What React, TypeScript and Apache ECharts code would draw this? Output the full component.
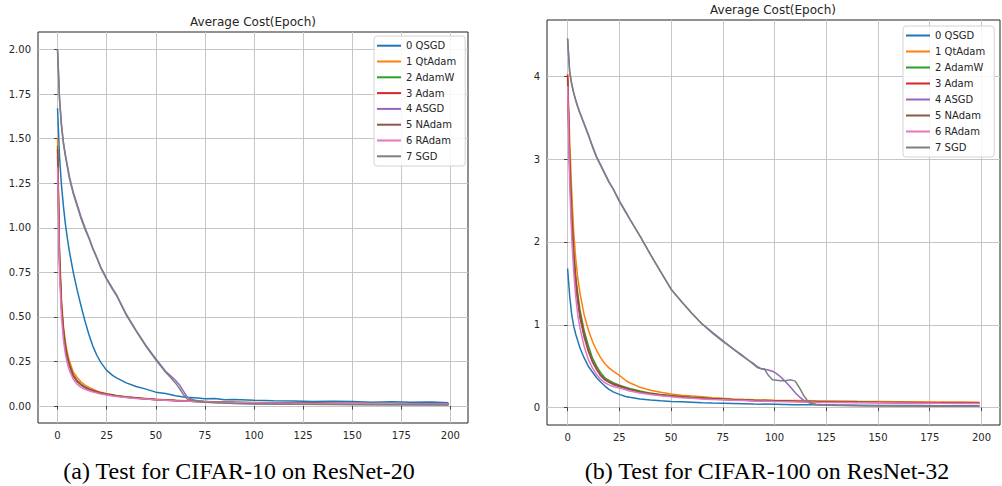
import React, { useEffect, useRef } from "react";
import * as echarts from "echarts";

// ---------- data ----------
const NAMES = ["0 QSGD", "1 QtAdam", "2 AdamW", "3 Adam", "4 ASGD", "5 NAdam", "6 RAdam", "7 SGD"];
const COLORS = ["#1f77b4", "#ff7f0e", "#2ca02c", "#d62728", "#9467bd", "#8c564b", "#e377c2", "#7f7f7f"];

const X_TICKS = [0, 25, 50, 75, 100, 125, 150, 175, 200];
const Y_TICKS_A = [0, 0.25, 0.5, 0.75, 1.0, 1.25, 1.5, 1.75, 2.0];
const Y_TICKS_B = [0, 1, 2, 3, 4];

// epochs sampled for fast-converging optimizers (both charts)
const EP_FAST = [0, 1, 2, 3, 4, 5, 6, 8, 10, 12, 14, 16, 18, 20, 22, 25, 28, 30, 35, 40, 45, 50, 55, 60, 65, 70, 75, 80, 85, 90, 100, 110, 120, 130, 140, 150, 160, 170, 180, 190, 199];
// epochs sampled for SGD / ASGD
const EP_SLOW_A = [0, 1, 2, 3, 4, 5, 6, 8, 10, 12, 14, 16, 18, 20, 22, 25, 28, 30, 35, 40, 45, 50, 55, 58, 60, 62, 64, 66, 70, 75, 80, 90, 100, 120, 140, 160, 180, 199];
const EP_SLOW_B = [0, 1, 2, 3, 4, 5, 6, 8, 10, 12, 14, 16, 18, 20, 22, 25, 28, 30, 35, 40, 45, 50, 55, 60, 65, 70, 75, 80, 84, 88, 90, 92, 94, 95, 97, 99, 101, 103, 105, 108, 110, 112, 114, 116, 118, 120, 125, 140, 160, 180, 199];

// (a) CIFAR-10 / ResNet-20
const A_QSGD = [1.67, 1.40, 1.24, 1.12, 1.02, 0.94, 0.87, 0.75, 0.65, 0.56, 0.475, 0.40, 0.335, 0.285, 0.245, 0.2, 0.172, 0.158, 0.13, 0.11, 0.095, 0.078, 0.07, 0.058, 0.05, 0.046, 0.041, 0.043, 0.036, 0.037, 0.032, 0.03, 0.029, 0.026, 0.027, 0.025, 0.022, 0.024, 0.021, 0.023, 0.018];
const A_QTADAM = [1.50, 0.88, 0.60, 0.45, 0.36, 0.30, 0.255, 0.19, 0.16, 0.135, 0.118, 0.105, 0.095, 0.085, 0.077, 0.069, 0.063, 0.059, 0.052, 0.046, 0.042, 0.038, 0.035, 0.032, 0.03, 0.027, 0.026, 0.024, 0.023, 0.021, 0.02, 0.019, 0.017, 0.017, 0.015, 0.015, 0.014, 0.013, 0.013, 0.012, 0.011];
const A_ADAMW = [1.46, 0.84, 0.57, 0.43, 0.34, 0.28, 0.235, 0.175, 0.143, 0.122, 0.107, 0.096, 0.088, 0.081, 0.075, 0.068, 0.062, 0.058, 0.051, 0.046, 0.041, 0.037, 0.034, 0.031, 0.029, 0.027, 0.025, 0.023, 0.022, 0.021, 0.019, 0.018, 0.017, 0.019, 0.015, 0.015, 0.014, 0.014, 0.013, 0.012, 0.012];
const A_ADAM = [1.44, 0.82, 0.56, 0.42, 0.33, 0.27, 0.23, 0.17, 0.14, 0.12, 0.105, 0.095, 0.087, 0.08, 0.074, 0.067, 0.061, 0.057, 0.05, 0.045, 0.04, 0.037, 0.034, 0.031, 0.028, 0.026, 0.024, 0.023, 0.021, 0.02, 0.019, 0.017, 0.016, 0.016, 0.015, 0.014, 0.013, 0.013, 0.012, 0.012, 0.011];
const A_NADAM = [1.40, 0.80, 0.55, 0.41, 0.32, 0.265, 0.225, 0.167, 0.137, 0.118, 0.103, 0.093, 0.085, 0.078, 0.072, 0.065, 0.06, 0.056, 0.049, 0.044, 0.04, 0.036, 0.033, 0.03, 0.028, 0.026, 0.024, 0.022, 0.021, 0.02, 0.018, 0.017, 0.016, 0.015, 0.014, 0.014, 0.013, 0.012, 0.012, 0.011, 0.011];
const A_RADAM = [1.34, 0.74, 0.50, 0.37, 0.29, 0.24, 0.20, 0.15, 0.122, 0.105, 0.094, 0.086, 0.079, 0.073, 0.068, 0.062, 0.057, 0.054, 0.048, 0.043, 0.039, 0.036, 0.033, 0.03, 0.028, 0.026, 0.024, 0.022, 0.021, 0.02, 0.018, 0.017, 0.016, 0.015, 0.015, 0.014, 0.013, 0.013, 0.012, 0.012, 0.011];
const A_ASGD = [2.00, 1.73, 1.58, 1.48, 1.41, 1.35, 1.29, 1.20, 1.13, 1.06, 1.00, 0.945, 0.885, 0.835, 0.78, 0.715, 0.66, 0.625, 0.515, 0.425, 0.34, 0.265, 0.195, 0.165, 0.145, 0.12, 0.085, 0.05, 0.032, 0.024, 0.02, 0.016, 0.013, 0.011, 0.01, 0.009, 0.008, 0.008];
const A_SGD = [2.00, 1.72, 1.57, 1.47, 1.40, 1.34, 1.28, 1.19, 1.12, 1.05, 0.99, 0.94, 0.88, 0.83, 0.775, 0.71, 0.655, 0.62, 0.51, 0.42, 0.335, 0.26, 0.19, 0.155, 0.13, 0.10, 0.065, 0.04, 0.03, 0.022, 0.018, 0.014, 0.012, 0.01, 0.009, 0.008, 0.007, 0.006];

// (b) CIFAR-100 / ResNet-32
const B_QSGD = [1.68, 1.35, 1.12, 0.98, 0.88, 0.80, 0.72, 0.60, 0.50, 0.43, 0.36, 0.31, 0.26, 0.22, 0.19, 0.16, 0.135, 0.125, 0.105, 0.092, 0.082, 0.075, 0.07, 0.065, 0.06, 0.056, 0.053, 0.05, 0.047, 0.044, 0.04, 0.036, 0.033, 0.03, 0.028, 0.026, 0.025, 0.024, 0.023, 0.022, 0.021];
const B_QTADAM = [4.03, 3.25, 2.60, 2.10, 1.78, 1.55, 1.38, 1.12, 0.94, 0.80, 0.69, 0.60, 0.53, 0.48, 0.44, 0.39, 0.33, 0.30, 0.245, 0.21, 0.185, 0.165, 0.15, 0.14, 0.13, 0.12, 0.112, 0.105, 0.10, 0.096, 0.09, 0.086, 0.082, 0.079, 0.076, 0.074, 0.072, 0.07, 0.068, 0.067, 0.066];
const B_ADAMW = [3.98, 3.00, 2.35, 1.88, 1.58, 1.36, 1.18, 0.93, 0.75, 0.60, 0.50, 0.42, 0.36, 0.33, 0.30, 0.27, 0.245, 0.23, 0.20, 0.175, 0.158, 0.145, 0.135, 0.125, 0.118, 0.11, 0.104, 0.098, 0.094, 0.09, 0.083, 0.078, 0.074, 0.07, 0.067, 0.064, 0.062, 0.06, 0.058, 0.057, 0.056];
const B_ADAM = [4.02, 2.95, 2.28, 1.82, 1.52, 1.30, 1.12, 0.88, 0.70, 0.56, 0.47, 0.39, 0.34, 0.31, 0.285, 0.26, 0.235, 0.22, 0.19, 0.168, 0.152, 0.14, 0.13, 0.12, 0.113, 0.106, 0.10, 0.095, 0.09, 0.087, 0.081, 0.076, 0.072, 0.068, 0.065, 0.063, 0.061, 0.059, 0.058, 0.057, 0.056];
const B_NADAM = [3.95, 2.85, 2.20, 1.75, 1.46, 1.25, 1.08, 0.85, 0.68, 0.55, 0.46, 0.385, 0.335, 0.305, 0.28, 0.255, 0.232, 0.218, 0.188, 0.166, 0.15, 0.138, 0.128, 0.118, 0.11, 0.104, 0.098, 0.093, 0.089, 0.085, 0.079, 0.074, 0.07, 0.067, 0.064, 0.061, 0.059, 0.057, 0.056, 0.055, 0.054];
const B_RADAM = [3.88, 2.70, 2.05, 1.62, 1.32, 1.10, 0.96, 0.74, 0.58, 0.48, 0.40, 0.34, 0.30, 0.275, 0.255, 0.235, 0.215, 0.20, 0.175, 0.157, 0.142, 0.13, 0.12, 0.112, 0.105, 0.099, 0.094, 0.089, 0.085, 0.081, 0.075, 0.07, 0.066, 0.063, 0.06, 0.058, 0.056, 0.054, 0.052, 0.051, 0.05];
const B_ASGD = [4.46, 4.06, 3.91, 3.80, 3.71, 3.63, 3.56, 3.43, 3.30, 3.16, 3.03, 2.93, 2.83, 2.73, 2.64, 2.50, 2.37, 2.28, 2.07, 1.85, 1.64, 1.43, 1.28, 1.14, 1.01, 0.91, 0.81, 0.71, 0.64, 0.56, 0.53, 0.49, 0.465, 0.462, 0.455, 0.44, 0.41, 0.37, 0.32, 0.24, 0.18, 0.13, 0.09, 0.065, 0.05, 0.04, 0.032, 0.026, 0.022, 0.02, 0.019];
const B_SGD = [4.45, 4.05, 3.90, 3.79, 3.70, 3.62, 3.55, 3.42, 3.29, 3.15, 3.02, 2.92, 2.82, 2.72, 2.64, 2.49, 2.36, 2.28, 2.07, 1.85, 1.64, 1.43, 1.28, 1.14, 1.01, 0.90, 0.80, 0.71, 0.63, 0.56, 0.52, 0.48, 0.465, 0.47, 0.39, 0.335, 0.33, 0.325, 0.325, 0.335, 0.32, 0.24, 0.15, 0.08, 0.05, 0.035, 0.028, 0.022, 0.018, 0.016, 0.015];

const TITLE = "Average Cost(Epoch)";
const CAPTION_A = "(a) Test for CIFAR-10 on ResNet-20";
const CAPTION_B = "(b) Test for CIFAR-100 on ResNet-32";

const SERIES_A = [
  [EP_FAST, A_QSGD], [EP_FAST, A_QTADAM], [EP_FAST, A_ADAMW], [EP_FAST, A_ADAM],
  [EP_SLOW_A, A_ASGD], [EP_FAST, A_NADAM], [EP_FAST, A_RADAM], [EP_SLOW_A, A_SGD],
];
const SERIES_B = [
  [EP_FAST, B_QSGD], [EP_FAST, B_QTADAM], [EP_FAST, B_ADAMW], [EP_FAST, B_ADAM],
  [EP_SLOW_B, B_ASGD], [EP_FAST, B_NADAM], [EP_FAST, B_RADAM], [EP_SLOW_B, B_SGD],
];

const FONT = "DejaVu Sans";
const TXT = "#262626";

function xAxis(gridIndex: number) {
  return {
    type: "value",
    gridIndex,
    min: -9.95,
    max: 208.95,
    axisLine: { show: false },
    axisTick: { show: true, length: 3.5, lineStyle: { color: "#222", width: 0.8 }, customValues: X_TICKS },
    axisLabel: { customValues: X_TICKS, fontSize: 10, fontFamily: FONT, color: TXT, margin: 7 },
    splitLine: { show: true, lineStyle: { color: "#c6c6c6", width: 1 } },
  };
}

function yAxis(gridIndex: number, min: number, max: number, ticks: number[], digits: number) {
  return {
    type: "value",
    gridIndex,
    min,
    max,
    axisLine: { show: false },
    axisTick: { show: true, length: 3.5, lineStyle: { color: "#222", width: 0.8 }, customValues: ticks },
    axisLabel: {
      customValues: ticks,
      fontSize: 10,
      fontFamily: FONT,
      color: TXT,
      margin: 7,
      formatter: (v: number) => v.toFixed(digits),
    },
    splitLine: { show: true, lineStyle: { color: "#c6c6c6", width: 1 } },
  };
}

function makeSeries(list: any[], idx: number) {
  return list.map(([ep, vals]: [number[], number[]], i: number) => ({
    type: "line",
    name: NAMES[i],
    xAxisIndex: idx,
    yAxisIndex: idx,
    showSymbol: false,
    symbol: "none",
    color: COLORS[i],
    lineStyle: { width: 1.5, color: COLORS[i] },
    data: ep.map((e, k) => [e, vals[k]]),
  }));
}

function legend(left: number, top: number, lh: number, padV: number) {
  return {
    left,
    top,
    orient: "vertical",
    icon: "rect",
    itemWidth: 24,
    itemHeight: 2,
    itemGap: 0,
    padding: [padV, 9, padV, 3],
    backgroundColor: "rgba(255,255,255,0.85)",
    borderColor: "#d4d4d4",
    borderWidth: 1,
    borderRadius: 3,
    data: NAMES,
    selectedMode: false,
    textStyle: { fontSize: 10, fontFamily: FONT, color: TXT, lineHeight: lh },
  };
}

export default function App() {
  const ref = useRef<HTMLDivElement>(null);
  useEffect(() => {
    if (!ref.current) return;
    const chart = echarts.init(ref.current, null, { renderer: "svg" });
    chart.setOption({
      animation: false,
      backgroundColor: "#ffffff",
      grid: [
        { left: 38, top: 32, width: 430, height: 391, show: true, borderColor: "#222", borderWidth: 1, containLabel: false },
        { left: 547, top: 20, width: 453, height: 405, show: true, borderColor: "#222", borderWidth: 1, containLabel: false },
      ],
      xAxis: [xAxis(0), xAxis(1)],
      yAxis: [yAxis(0, -0.095, 2.098, Y_TICKS_A, 2), yAxis(1, -0.21, 4.68, Y_TICKS_B, 0)],
      legend: [legend(374, 36, 15.8, 1.8), legend(903, 26, 16, 1.5)],
      series: [...makeSeries(SERIES_A, 0), ...makeSeries(SERIES_B, 1)],
      graphic: [
        { type: "text", x: 253, y: 22, style: { text: TITLE, fontSize: 12, fontFamily: FONT, fill: TXT, align: "center", verticalAlign: "middle" } },
        { type: "text", x: 773, y: 10, style: { text: TITLE, fontSize: 12, fontFamily: FONT, fill: TXT, align: "center", verticalAlign: "middle" } },
        { type: "text", x: 239, y: 471, style: { text: CAPTION_A, fontSize: 24, fontFamily: "Liberation Serif", fill: "#000", align: "center", verticalAlign: "middle" } },
        { type: "text", x: 767, y: 471, style: { text: CAPTION_B, fontSize: 24, fontFamily: "Liberation Serif", fill: "#000", align: "center", verticalAlign: "middle" } },
      ],
    });
    return () => chart.dispose();
  }, []);
  return <div ref={ref} style={{ position: "fixed", left: 0, top: 0, width: 1002, height: 486 }} />;
}
